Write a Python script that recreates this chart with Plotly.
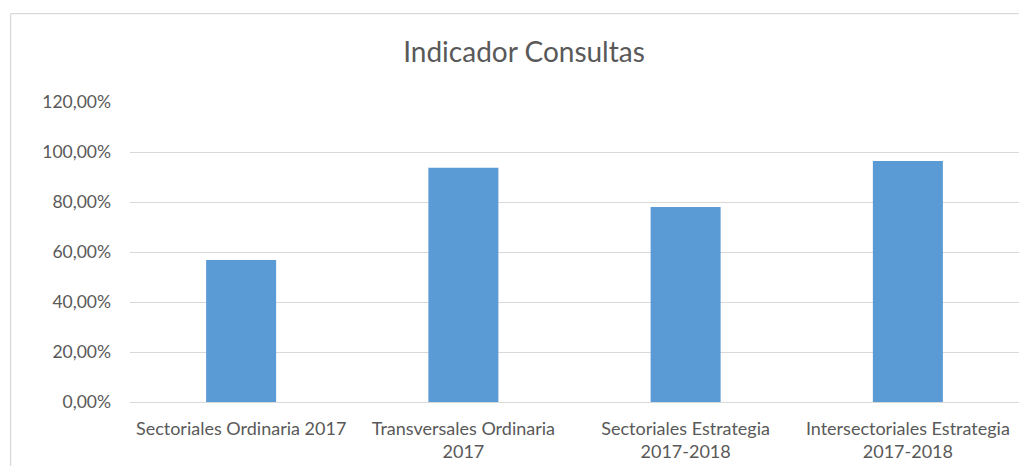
import plotly.graph_objects as go

categories = [
    "Sectoriales Ordinaria 2017",
    "Transversales Ordinaria<br>2017",
    "Sectoriales Estrategia<br>2017-2018",
    "Intersectoriales Estrategia<br>2017-2018",
]
values = [0.568, 0.937, 0.780, 0.964]
y_ticks = [0, 0.2, 0.4, 0.6, 0.8, 1.0, 1.2]

# page body has an 8px margin; figure coordinates are offset by it
OFF = 8
W, H = 1011, 458
L = 129.5 - OFF
T = 102.3 - OFF
R = 0
B = H - (402.3 - OFF)

fig = go.Figure(
    go.Bar(x=categories, y=values, marker=dict(color="#5B9BD5", line=dict(width=0)))
)

plot_w = W - L - R
plot_h = H - T - B
bx0 = (10 - OFF - L) / plot_w
by1 = (402.3 - 14) / plot_h

fig.update_layout(
    width=W,
    height=H,
    margin=dict(l=L, r=R, t=T, b=B, pad=0),
    paper_bgcolor="white",
    plot_bgcolor="white",
    separators=",.",
    bargap=0.685,
    showlegend=False,
    font=dict(family="Lato, 'Open Sans', sans-serif", color="#595959", size=17.5),
    title=dict(
        text="Indicador Consultas",
        x=(524 - OFF) / W,
        xref="container",
        xanchor="center",
        y=1 - (52 - OFF) / H,
        yref="container",
        yanchor="middle",
        font=dict(size=28, color="#595959"),
    ),
    xaxis=dict(
        showgrid=False,
        showline=False,
        ticks="",
        ticklabelstandoff=14,
        tickfont=dict(size=18),
    ),
    yaxis=dict(
        range=[0, 1.2],
        tickvals=y_ticks,
        tickformat=".2%",
        showgrid=True,
        gridcolor="#D9D9D9",
        gridwidth=1.3,
        zeroline=True,
        zerolinecolor="#D9D9D9",
        zerolinewidth=1.3,
        showline=False,
        ticks="",
        ticklabelstandoff=18,
        tickfont=dict(size=17.5),
    ),
    shapes=[
        dict(type="line", xref="paper", yref="paper", x0=bx0, x1=1.2, y0=by1, y1=by1,
             line=dict(color="#D9D9D9", width=1.3)),
        dict(type="line", xref="paper", yref="paper", x0=bx0, x1=bx0, y0=-0.5, y1=by1,
             line=dict(color="#D9D9D9", width=1.3)),
    ],
)

fig.write_html("out.html")
